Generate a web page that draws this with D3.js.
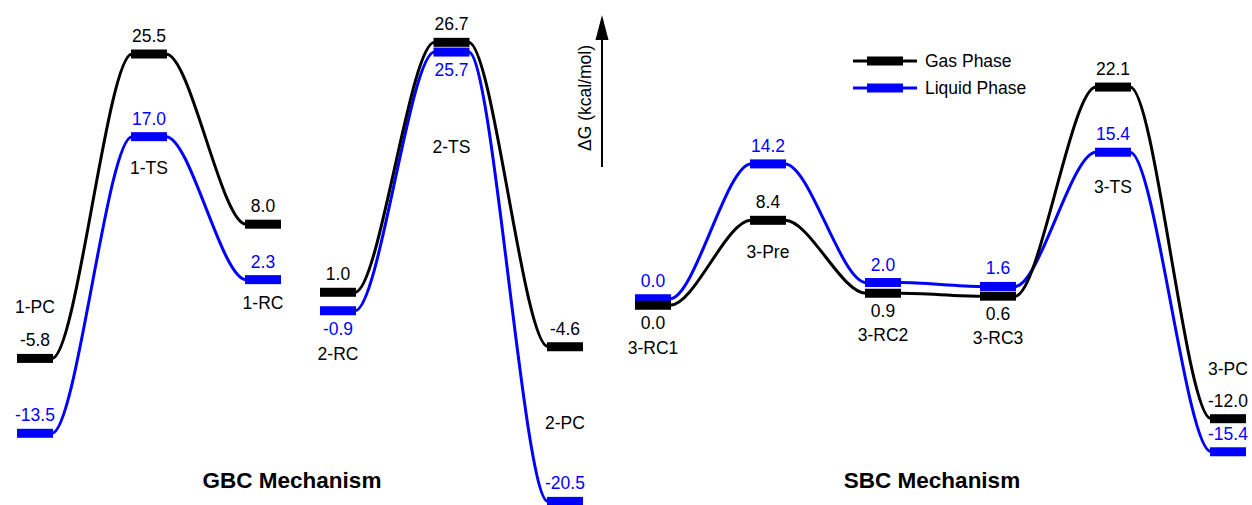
<!DOCTYPE html>
<html>
<head>
<meta charset="utf-8">
<script src="https://cdn.jsdelivr.net/npm/d3@7"></script>
<style>
  html, body { margin: 0; padding: 0; background: #fff; }
  svg { display: block; }
  text { font-family: "Liberation Sans", Arial, Helvetica, sans-serif; }
</style>
</head>
<body>
<svg id="chart" width="1252" height="505"></svg>
<script>
// ---------------- DATA ----------------
const gbc1States = ["1-PC", "1-TS", "1-RC"];
const gbc1Gas    = [-5.8, 25.5, 8.0];
const gbc1Liquid = [-13.5, 17.0, 2.3];

const gbc2States = ["2-RC", "2-TS", "2-PC"];
const gbc2Gas    = [1.0, 26.7, -4.6];
const gbc2Liquid = [-0.9, 25.7, -20.5];

const sbcStates = ["3-RC1", "3-Pre", "3-RC2", "3-RC3", "3-TS", "3-PC"];
const sbcGas    = [0.0, 8.4, 0.9, 0.6, 22.1, -12.0];
const sbcLiquid = [0.0, 14.2, 2.0, 1.6, 15.4, -15.4];

const seriesNames = ["Gas Phase", "Liquid Phase"];
const mechanismTitles = ["GBC Mechanism", "SBC Mechanism"];
const axisTitle = "ΔG (kcal/mol)";

// ---------------- LAYOUT / STYLE ----------------
const W = 1252, H = 505;
const COLORS = { gas: "#000000", liquid: "#0000ff" };
const BAR_W = 36, BAR_H = 9, LINE_W = 3, CURVE_K = 0.3;
const FONT = 17.5;

// name label placement: anchor bar ('upper' | 'lower') and vertical offset
const namePlacement = {
  "1-PC": ["upper", -45], "1-TS": ["lower", 37], "1-RC": ["lower", 29],
  "2-RC": ["lower", 49], "2-TS": ["lower", 101], "2-PC": ["upper", 82],
  "3-RC1": ["lower", 49], "3-Pre": ["lower", 38], "3-RC2": ["lower", 48],
  "3-RC3": ["lower", 48], "3-TS": ["lower", 41], "3-PC": ["upper", -44]
};

const svg = d3.select("#chart");

const y = d3.scaleLinear().domain([0, 25.5]).range([302, 54]);

const groups = [
  { states: gbc1States, gas: gbc1Gas, liquid: gbc1Liquid,
    x: d3.scalePoint().domain(gbc1States).range([35, 263]) },
  { states: gbc2States, gas: gbc2Gas, liquid: gbc2Liquid,
    x: d3.scalePoint().domain(gbc2States).range([338, 565]) },
  { states: sbcStates, gas: sbcGas, liquid: sbcLiquid,
    x: d3.scalePoint().domain(sbcStates).range([653, 1228]) }
];

function fmt(v) { return d3.format(".1f")(v).replace("−", "-"); }

const gLines = svg.append("g");
const gBars = svg.append("g");
const gText = svg.append("g");

groups.forEach(grp => {
  // compute bar pixel positions, nudging coincident levels apart
  const nodes = grp.states.map((s, i) => {
    let yg = y(grp.gas[i]), yl = y(grp.liquid[i]);
    const minGap = 6.5;
    if (Math.abs(yg - yl) < minGap) {
      const mid = (yg + yl) / 2;
      yl = mid - minGap / 2;
      yg = mid + minGap / 2;
    }
    return { state: s, cx: grp.x(s), gas: grp.gas[i], liquid: grp.liquid[i], yg, yl };
  });

  ["liquid", "gas"].forEach(series => {
    const key = series === "gas" ? "yg" : "yl";
    // connectors
    for (let i = 0; i < nodes.length - 1; i++) {
      const a = nodes[i], b = nodes[i + 1];
      const x0 = a.cx + BAR_W / 2, y0 = a[key];
      const x1 = b.cx - BAR_W / 2, y1 = b[key];
      const dx = x1 - x0;
      const p = d3.path();
      p.moveTo(x0 - 1, y0);
      p.bezierCurveTo(x0 + dx * CURVE_K, y0, x1 - dx * CURVE_K, y1, x1 + 1, y1);
      gLines.append("path").attr("d", p.toString())
        .attr("fill", "none").attr("stroke", COLORS[series])
        .attr("stroke-width", LINE_W);
    }
    // bars
    gBars.selectAll(null).data(nodes).enter().append("rect")
      .attr("x", d => d.cx - BAR_W / 2)
      .attr("y", d => d[key] - BAR_H / 2)
      .attr("width", BAR_W).attr("height", BAR_H)
      .attr("fill", COLORS[series]);
  });

  // labels
  nodes.forEach(d => {
    const gasUpper = d.yg <= d.yl;
    const upper = gasUpper ? { v: d.gas, y: d.yg, c: COLORS.gas } : { v: d.liquid, y: d.yl, c: COLORS.liquid };
    const lower = gasUpper ? { v: d.liquid, y: d.yl, c: COLORS.liquid } : { v: d.gas, y: d.yg, c: COLORS.gas };
    const close = Math.abs(d.yg - d.yl) < 30;

    gText.append("text").attr("x", d.cx).attr("y", upper.y - 12)
      .attr("text-anchor", "middle").attr("font-size", FONT)
      .attr("fill", upper.c).text(fmt(upper.v));
    gText.append("text").attr("x", d.cx).attr("y", close ? lower.y + 24 : lower.y - 12)
      .attr("text-anchor", "middle").attr("font-size", FONT)
      .attr("fill", lower.c).text(fmt(lower.v));

    const [anchor, dy] = namePlacement[d.state];
    const ref = anchor === "upper" ? upper.y : lower.y;
    gText.append("text").attr("x", d.cx).attr("y", ref + dy)
      .attr("text-anchor", "middle").attr("font-size", FONT)
      .attr("fill", "#000").text(d.state);
  });
});

// mechanism titles
const titleX = [292, 932];
mechanismTitles.forEach((t, i) => {
  svg.append("text").attr("x", titleX[i]).attr("y", 488)
    .attr("text-anchor", "middle").attr("font-size", 22.5)
    .attr("font-weight", "bold").attr("fill", "#000").text(t);
});

// energy axis arrow
const ax = svg.append("g");
ax.append("line").attr("x1", 602).attr("x2", 602).attr("y1", 167).attr("y2", 36)
  .attr("stroke", "#000").attr("stroke-width", 2);
ax.append("path").attr("d", "M602,15 L595.5,40 L608.5,40 Z").attr("fill", "#000");
ax.append("text").attr("transform", "translate(591,98) rotate(-90)")
  .attr("text-anchor", "middle").attr("font-size", FONT).attr("fill", "#000")
  .text(axisTitle);

// legend
const legend = svg.append("g");
seriesNames.forEach((name, i) => {
  const ly = 61 + i * 27;
  const c = i === 0 ? COLORS.gas : COLORS.liquid;
  legend.append("line").attr("x1", 853).attr("x2", 917).attr("y1", ly).attr("y2", ly)
    .attr("stroke", c).attr("stroke-width", LINE_W);
  legend.append("rect").attr("x", 867).attr("y", ly - BAR_H / 2)
    .attr("width", 36).attr("height", BAR_H).attr("fill", c);
  legend.append("text").attr("x", 925).attr("y", ly + 6)
    .attr("font-size", FONT).attr("fill", "#000").text(name);
});
</script>
</body>
</html>
